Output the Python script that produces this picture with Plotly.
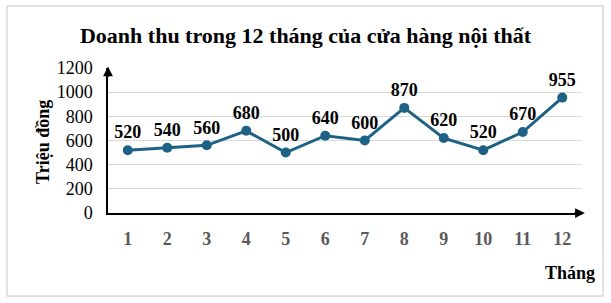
import plotly.graph_objects as go

months = ["1", "2", "3", "4", "5", "6", "7", "8", "9", "10", "11", "12"]
revenue = [520, 540, 560, 680, 500, 640, 600, 870, 620, 520, 670, 955]
y_ticks = [0, 200, 400, 600, 800, 1000, 1200]

FONT = "Liberation Serif"
LINE = "#1d6285"

fig = go.Figure()
fig.add_trace(go.Scatter(
    x=months, y=revenue, mode="lines+markers+text",
    line=dict(color=LINE, width=3),
    marker=dict(color=LINE, size=10),
    text=[str(v) for v in revenue],
    textposition="top center",
    textfont=dict(family=FONT, size=18, color="black", weight="bold"),
    cliponaxis=False,
    showlegend=False,
))

fig.update_layout(
    width=611, height=303,
    margin=dict(l=108, r=29, t=68, b=90),
    paper_bgcolor="white", plot_bgcolor="white",
    title=dict(text="<b>Doanh thu trong 12 tháng của cửa hàng nội thất</b>",
               x=0.5, xanchor="center", y=1 - 35 / 303, yanchor="middle",
               font=dict(family=FONT, size=22, color="black")),
    xaxis=dict(type="category", range=[-0.5, 11.5],
               showline=True, linecolor="black", linewidth=1.5,
               showgrid=False, zeroline=False,
               ticks="outside", ticklen=9, tickcolor="rgba(0,0,0,0)",
               tickfont=dict(family=FONT, size=18, color="#595959", weight="bold")),
    yaxis=dict(range=[0, 1200], tickvals=y_ticks,
               showline=True, linecolor="black", linewidth=1.5,
               showgrid=True, gridcolor="#d9d9d9", gridwidth=1, zeroline=False,
               ticks="outside", ticklen=10, tickcolor="rgba(0,0,0,0)",
               tickfont=dict(family=FONT, size=18, color="black")),
    shapes=[dict(type="rect", xref="paper", yref="paper",
                 x0=-0.2131, x1=1.0443, y0=-0.5724, y1=1.4276,
                 line=dict(color="#d9d9d9", width=1.5), layer="below")],
    annotations=[
        dict(xref="paper", yref="paper", x=0, y=1.01, ax=0, ay=12,
             text="", showarrow=True, arrowhead=2, arrowsize=1.3,
             arrowwidth=1.5, arrowcolor="black"),
        dict(xref="paper", yref="paper", x=1.006, y=0, ax=-12, ay=0,
             text="", showarrow=True, arrowhead=2, arrowsize=1.3,
             arrowwidth=1.5, arrowcolor="black"),
        dict(xref="paper", yref="paper", x=-0.137, y=0.49, text="<b>Triệu đồng</b>",
             textangle=-90, showarrow=False, xanchor="center", yanchor="middle",
             font=dict(family=FONT, size=18, color="black")),
        dict(xref="paper", yref="paper", x=0.975, y=-0.414, text="<b>Tháng</b>",
             showarrow=False, xanchor="center", yanchor="middle",
             font=dict(family=FONT, size=18, color="black")),
    ],
)

fig.write_html("out.html")
